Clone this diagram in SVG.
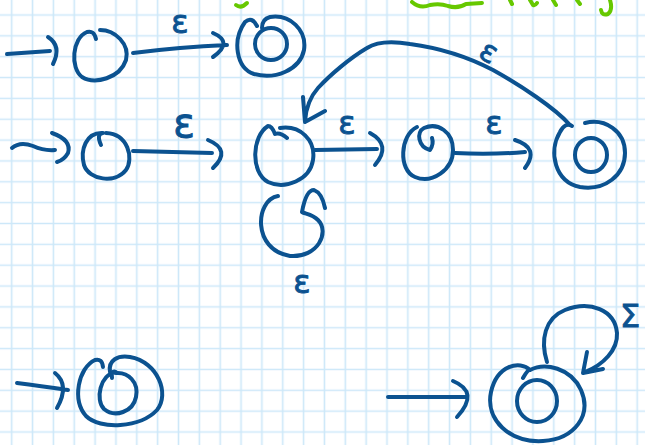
<svg xmlns="http://www.w3.org/2000/svg" width="645" height="445" viewBox="0 0 645 445">
<defs>
<pattern id="grid" patternUnits="userSpaceOnUse" x="1.275" y="4.575" width="20.85" height="20.85">
<path d="M10.425,0 V20.85 M0,10.425 H20.85" stroke="#cde8f9" stroke-width="1.6" fill="none"/>
</pattern>
<style>
.ink{fill:none;stroke:#0b5290;stroke-width:4;stroke-linecap:round;stroke-linejoin:round}
.lbl{font-family:"DejaVu Sans",sans-serif;fill:#0b5290;stroke:#0b5290;stroke-width:0.9;text-anchor:middle}
.green{fill:none;stroke:#66c800;stroke-width:4;stroke-linecap:round;stroke-linejoin:round}
</style>
</defs>
<rect width="645" height="445" fill="#ffffff"/>
<rect width="645" height="445" fill="url(#grid)"/>

<g id="note">
<path class="green" d="M236,5 Q241,9 247,3"/>
<path class="green" d="M412,2 Q420,9 430,5 Q440,3 448,6 Q458,9 466,4 L482,3"/>
<path class="green" d="M510,0 L512,4 M530,0 L533,5 Q535,6 537,3 M553,0 L556,5 M577,0 L580,4 M610,0 Q613,10 608,14 Q602,16 601,10"/>
</g>

<g id="connectors">
<!-- top row -->
<path class="ink" d="M7,54 L50,51 M48,37 Q62,46 53,64"/>
<path class="ink" d="M133,53 Q180,47 227,45 M213,33 Q234,42 213,57"/>
<text class="lbl" x="180" y="33" font-size="32">ε</text>
<!-- middle row -->
<path class="ink" d="M12,148 Q20,141 33,146 Q44,151 55,150 M52,133 Q72,140 68,153 Q64,160 57,162"/>
<path class="ink" d="M133,151 L212,153 M208,140 Q232,150 213,168"/>
<text class="lbl" x="184" y="137" font-size="40">ε</text>
<path class="ink" d="M278,196 C255,200 252,250 290,256 C318,258 330,232 318,220 C312,214 305,214 302,212 Q306,190 314,190 Q322,193 325,208"/>
<text class="lbl" x="302" y="293" font-size="32">ε</text>
<path class="ink" d="M315,150 L377,149 M370,133 Q392,145 375,165"/>
<text class="lbl" x="347" y="134" font-size="32">ε</text>
<path class="ink" d="M455,153 Q490,155 525,152 M515,140 Q540,148 525,168"/>
<text class="lbl" x="494" y="134" font-size="32">ε</text>
<path class="ink" d="M570,125 C555,108 520,85 493,70 C470,58 440,48 410,44 C392,41 378,41 367,48 C350,58 330,75 318,88 C310,97 306,108 305,121 M303,97 L305,122 L325,111"/>
<text class="lbl" x="489" y="62" font-size="30" transform="rotate(30 489 52)">ε</text>
<!-- bottom row -->
<path class="ink" d="M17,383 Q40,386 68,390 M55,373 Q70,385 57,408"/>
<path class="ink" d="M388,397 L465,397 M453,381 Q480,392 457,417"/>
<path class="ink" d="M547,362 C540,340 545,318 565,310 C590,300 615,310 617,333 C618,350 603,365 585,372 M587,352 L583,373 L603,369"/>
<text class="lbl" x="630" y="327" font-size="32">Σ</text>
</g>

<g id="q0">
<path class="ink" d="M96,39 Q94,30 87,32 C72,38 70,68 82,77 C95,85 120,78 126,60 C130,44 115,30 100,30"/>
</g>
<g id="q0f">
<path class="ink" d="M257,26 Q252,16 245,22 C232,40 236,68 254,74 C275,80 300,70 304,50 C307,30 290,14 270,17 Q262,19 262,28"/>
<ellipse class="ink" cx="271" cy="44" rx="16" ry="16"/>
</g>
<g id="q1">
<path class="ink" d="M101,145 Q96,134 103,133 C86,132 80,150 84,165 C89,180 115,184 126,170 C134,158 128,134 106,133"/>
</g>
<g id="q2">
<path class="ink" d="M287,138 Q280,132 275,134 Q272,126 268,126 C252,136 250,172 268,182 C285,190 310,180 313,160 C316,140 300,125 280,128"/>
</g>
<g id="q3">
<path class="ink" d="M417,127 C400,135 398,170 415,177 C432,184 453,170 453,150 C453,132 438,122 424,128 C416,132 418,147 430,150 Q434,144 432,138"/>
</g>
<g id="q4">
<path class="ink" d="M572,126 Q565,122 560,132 C548,152 555,182 580,187 C605,191 625,175 625,153 C625,131 605,118 585,123"/>
<ellipse class="ink" cx="591" cy="155" rx="16" ry="17"/>
</g>
<g id="q5">
<path class="ink" d="M103,367 Q102,358 95,360 C78,368 72,400 86,416 C100,430 140,428 157,410 C170,394 158,362 130,357 C118,355 108,360 110,372"/>
<path class="ink" d="M112,378 Q111,370 116,372 C100,374 95,400 104,409 C115,418 133,412 136,397 C139,382 128,372 116,373"/>
</g>
<g id="q6">
<path class="ink" d="M523,378 Q528,369 530,370 C520,360 497,365 491,392 C485,420 510,443 543,441 C575,439 592,415 581,390 C571,368 545,362 530,370"/>
<ellipse class="ink" cx="537" cy="401" rx="20" ry="21"/>
</g>
</svg>
